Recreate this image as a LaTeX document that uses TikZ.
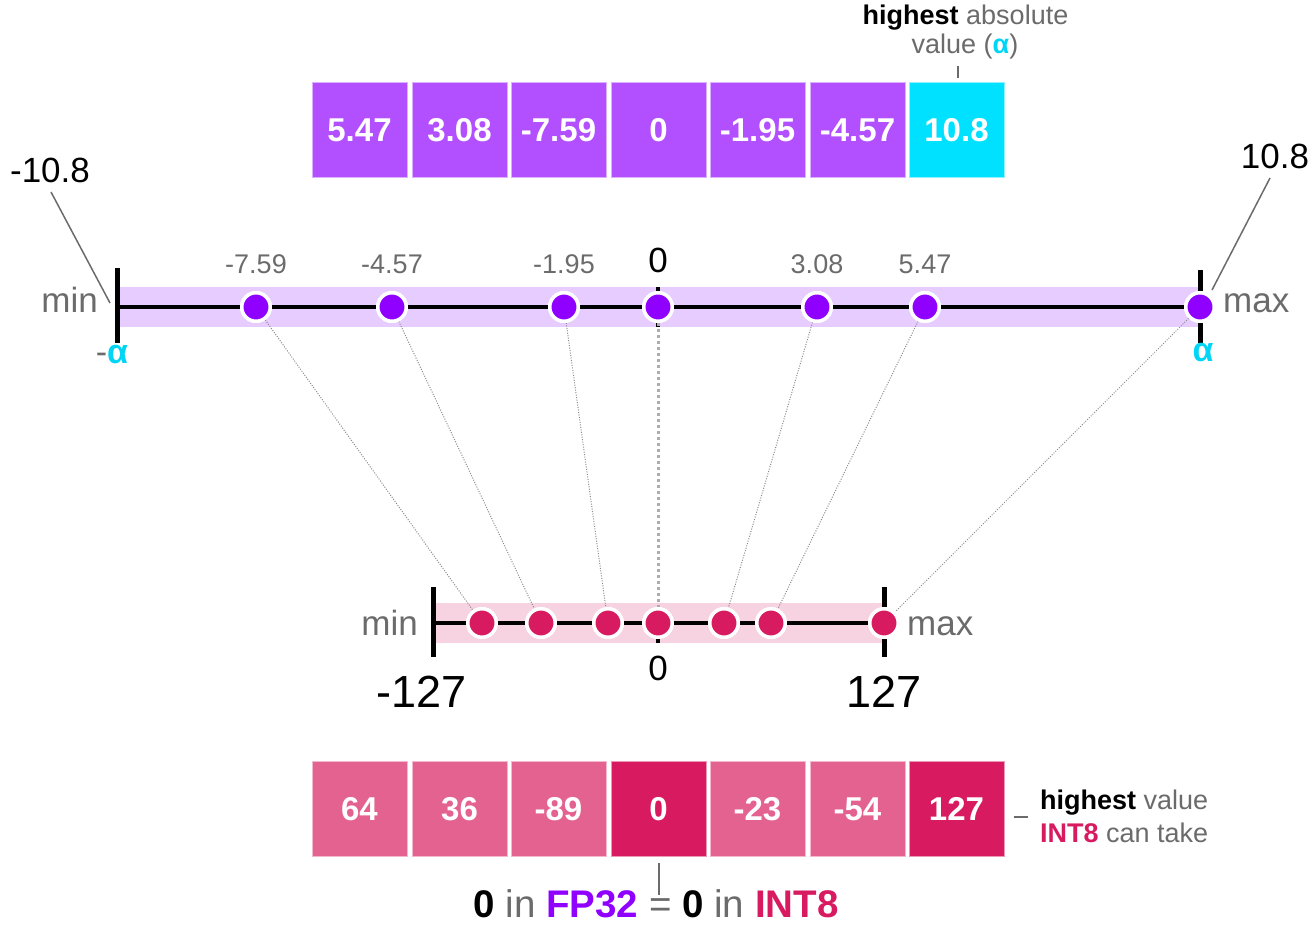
\documentclass[tikz,border=0pt]{standalone}
\usepackage{fontspec}
\setmainfont{Liberation Sans}
\usetikzlibrary{calc}

\definecolor{cellpurple}{HTML}{B24FFF}
\definecolor{cellcyan}{HTML}{00E1FF}
\definecolor{dotpurple}{HTML}{8F00FF}
\definecolor{bandpurple}{HTML}{E7CDFF}
\definecolor{cellpink}{HTML}{E4628F}
\definecolor{crimson}{HTML}{D81B60}
\definecolor{bandpink}{HTML}{F7D2E1}
\definecolor{txtgray}{HTML}{6B6B6B}
\definecolor{alphacyan}{HTML}{00D5F5}
\definecolor{linegray}{HTML}{8A8A8A}

\newcommand{\fsz}[1]{\fontsize{#1}{#1}\selectfont}

\tikzset{
  cellbox/.style={rectangle, minimum width=95pt, minimum height=95pt, inner sep=0pt,
    line width=1pt, text=white, font=\bfseries\fsz{33}},
  cellP/.style={cellbox, fill=cellpurple, draw=cellpurple!45!white},
  cellC/.style={cellbox, fill=cellcyan, draw=cellcyan!45!white},
  cellK/.style={cellbox, fill=cellpink, draw=cellpink!45!white},
  cellD/.style={cellbox, fill=crimson, draw=crimson!45!white},
  fpdot/.style={circle, minimum size=28.5pt, inner sep=0pt, fill=dotpurple, draw=white, line width=3.5pt},
  intdot/.style={circle, minimum size=28.5pt, inner sep=0pt, fill=crimson, draw=white, line width=3.5pt},
  axisline/.style={line width=4.5pt, black},
  axistick/.style={line width=5pt, black},
  zerotick/.style={line width=3.5pt, black},
  mapline/.style={draw=linegray, line width=1pt, dash pattern=on 1pt off 1.5pt},
  zeroline/.style={draw=linegray!70, line width=3pt, dash pattern=on 3pt off 3pt},
  leader/.style={draw=txtgray, line width=1.5pt},
  small/.style={text=txtgray, font=\fsz{27}, inner sep=0pt, anchor=base},
  side/.style={text=txtgray, font=\fsz{35}, inner sep=0pt, anchor=base},
  big/.style={text=black, font=\fsz{35}, inner sep=0pt, anchor=base},
  huge/.style={text=black, font=\fsz{45}, inner sep=0pt, anchor=base},
  note/.style={text=txtgray, font=\fsz{27}, inner sep=0pt, anchor=base},
  alph/.style={text=alphacyan, font=\bfseries\fsz{34}, inner sep=0pt, anchor=base},
}

\begin{document}
\begin{tikzpicture}[x=1pt,y=-1pt]
\useasboundingbox (0,0) rectangle (1312,925);

% FP32 values
\node[cellP] (t1) at (359.5,130.5) {5.47};
\node[cellP] (t2) at (459.5,130.5) {3.08};
\node[cellP] (t3) at (558.5,130.5) {-7.59};
\node[cellP] (t4) at (658.5,130.5) {0};
\node[cellP] (t5) at (757.5,130.5) {-1.95};
\node[cellP] (t6) at (857.5,130.5) {-4.57};
\node[cellC] (t7) at (956.5,130.5) {10.8};

\node[note] (hl1) at (965.5,25) {\textcolor{black}{\bfseries highest} absolute};
\node[note] (hl2) at (965,54) {value (\textcolor{alphacyan}{\bfseries α})};
\draw[leader] ($(t7.north)+(1.5,-4)$) -- ($(t7.north)+(1.5,-16)$);

% FP32 axis
\fill[bandpurple] (117,287) rectangle (1200,327);
\coordinate (tL) at (117,307);
\coordinate (tR) at (1200,307);
\draw[axisline] (tL) -- (tR);
\draw[axistick] (117,268) -- (117,343);
\draw[axistick] (1200,270) -- (1200,343);
\draw[zerotick] (658,287) -- (658,327);

% INT8 axis
\fill[bandpink] (433,603) rectangle (884,643);
\coordinate (bL) at (433,623);
\coordinate (bR) at (884,623);
\draw[axisline] (bL) -- (bR);
\draw[axistick] (433,587) -- (433,657);
\draw[axistick] (884,587) -- (884,657);
\draw[zerotick] (658,623) -- (658,643);

% points on both axes
\path (256,307) node[fpdot] (p1) {}
      (392,307) node[fpdot] (p2) {}
      (564,307) node[fpdot] (p3) {}
      (658,307) node[fpdot] (p4) {}
      (817,307) node[fpdot] (p5) {}
      (925,307) node[fpdot] (p6) {}
      (1200,307) node[fpdot] (p7) {};
\path (482,623) node[intdot] (q1) {}
      (541,623) node[intdot] (q2) {}
      (608,623) node[intdot] (q3) {}
      (658,623) node[intdot] (q4) {}
      (724,623) node[intdot] (q5) {}
      (771,623) node[intdot] (q6) {}
      (884,623) node[intdot] (q7) {};

% mapping between the axes
\draw[mapline] (p1) -- (q1);
\draw[mapline] (p2) -- (q2);
\draw[mapline] (p3) -- (q3);
\draw[zeroline] (p4) -- (q4);
\draw[mapline] (p5) -- (q5);
\draw[mapline] (p6) -- (q6);
\draw[mapline] (p7) -- (q7);

% redraw the points over the mapping lines
\path (256,307) node[fpdot] {} (392,307) node[fpdot] {} (564,307) node[fpdot] {}
      (658,307) node[fpdot] {} (817,307) node[fpdot] {} (925,307) node[fpdot] {}
      (1200,307) node[fpdot] {};
\path (482,623) node[intdot] {} (541,623) node[intdot] {} (608,623) node[intdot] {}
      (658,623) node[intdot] {} (724,623) node[intdot] {} (771,623) node[intdot] {}
      (884,623) node[intdot] {};

% FP32 axis labels
\node[small] (l1) at (256,274) {-7.59};
\node[small] (l2) at (392,274) {-4.57};
\node[small] (l3) at (564,274) {-1.95};
\node[big]   (l4) at (658,273) {0};
\node[small] (l5) at (817,274) {3.08};
\node[small] (l6) at (925,274) {5.47};
\node[side, anchor=base east] (tmin) at (98,313) {min};
\node[side, anchor=base west] (tmax) at (1223,313) {max};
\node[alph] (nalpha) at (112,363) {\textcolor{txtgray}{\mdseries -}α};
\node[alph] (palpha) at (1203,362) {α};
\node[big] (neg) at (50,183) {-10.8};
\node[big] (pos) at (1275,169) {10.8};
\coordinate (negend) at (110,303);
\coordinate (posend) at (1212,290);
\draw[leader] (51,192) -- (negend);
\draw[leader] (1270,178) -- (posend);

% INT8 axis labels
\node[side, anchor=base east] (bmin) at (418,635) {min};
\node[side, anchor=base west] (bmax) at (907,635) {max};
\node[big] (bzero) at (658,680) {0};
\node[huge] (bneg) at (422,707) {-127};
\node[huge] (bpos) at (884,707) {127};

% INT8 values
\node[cellK] (b1) at (359.5,809) {64};
\node[cellK] (b2) at (459.5,809) {36};
\node[cellK] (b3) at (558.5,809) {-89};
\node[cellD] (b4) at (658.5,809) {0};
\node[cellK] (b5) at (757.5,809) {-23};
\node[cellK] (b6) at (857.5,809) {-54};
\node[cellD] (b7) at (956.5,809) {127};

\draw[leader] ($(b7.east)+(9,8)$) -- ($(b7.east)+(23,8)$);
\node[note, anchor=base west] (hr1) at (1040,809) {\textcolor{black}{\bfseries highest} value};
\node[note, anchor=base west] (hr2) at (1040,842) {\textcolor{crimson}{\bfseries INT8} can take};

\draw[leader] ($(b4.south)+(0.5,6)$) -- ($(b4.south)+(0.5,38)$);
\node[inner sep=0pt, anchor=base, font=\fsz{38.5}, text=txtgray] (eq) at (656,917)
  {\textcolor{black}{\bfseries 0} in \textcolor{dotpurple}{\bfseries FP32} = \textcolor{black}{\bfseries 0} in \textcolor{crimson}{\bfseries INT8}};
\end{tikzpicture}
\end{document}
